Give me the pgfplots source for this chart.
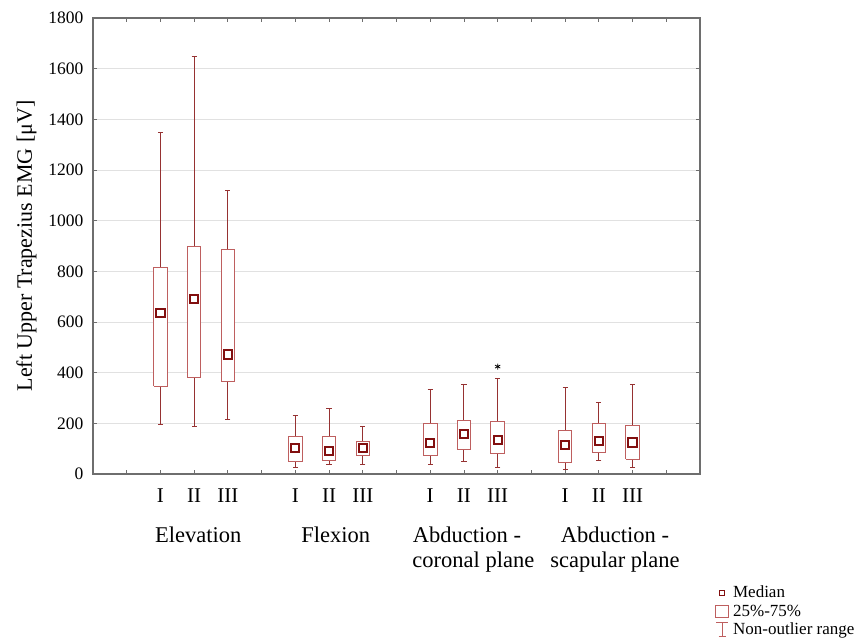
\documentclass[border=0pt]{standalone}
\usepackage{fontspec}
\setmainfont{Liberation Serif}
\usepackage{pgfplots}
\usepackage{pgfplotstable}
\pgfplotsset{compat=1.18}
\definecolor{boxred}{RGB}{190,95,95}
\definecolor{whiskred}{RGB}{150,50,50}
\definecolor{medred}{RGB}{130,15,15}
\definecolor{axgray}{RGB}{110,110,110}
\definecolor{gridgray}{RGB}{225,225,225}
% pos lower-whisker lower-quartile median upper-quartile upper-whisker
\pgfplotstableread{
pos lw  lq  med uq  uw
2   195 347 637 814 1350
3   187 382 692 897 1650
4   214 367 472 888 1120
6   25  49  104 147 233
7   39  55  90  147 257
8   38  75  104 128 186
10  36  75  121 200 332
11  49  97  157 213 355
12  26  80  134 207 378
14  19  47  113 171 341
15  55  87  130 200 282
16  26  59  124 193 355
}\boxdata
\begin{document}
\begin{tikzpicture}
\useasboundingbox (-93pt,-170pt) rectangle (768pt,474pt);
\begin{axis}[
  at={(0pt,0pt)}, anchor=south west,
  scale only axis, width=607pt, height=456pt,
  clip=false,
  xmin=0, xmax=18, ymin=0, ymax=1800,
  xtick={0,...,18},
  xticklabels={,,I,II,III,,I,II,III,,I,II,III,,I,II,III,,},
  ytick={0,200,...,1800},
  ymajorgrids, grid style={gridgray, line width=0.8pt},
  tick align=inside, xtick pos=both, ytick pos=both,
  major tick length=4pt,
  tick style={axgray, line width=0.8pt},
  axis line style={axgray, line width=1.2pt},
  /pgf/number format/assume math mode=true,
  /pgf/number format/1000 sep={},
  yticklabel style={font=\fontsize{17.5}{20}\selectfont, xshift=-6pt},
  xticklabel style={font=\fontsize{21}{24}\selectfont, yshift=-11pt},
  ylabel={Left Upper Trapezius EMG [μV]},
  ylabel style={font=\fontsize{22}{26}\selectfont, at={(axis description cs:-0.0925,0.5)}, anchor=south, inner sep=0pt},
  legend style={at={(axis description cs:1.0247,-0.2430)}, anchor=north west, draw=none, fill=none,
    font=\fontsize{17}{19}\selectfont, row sep=3.5pt, column sep=3pt, inner sep=0pt, nodes={inner sep=1pt}},
  legend cell align=left,
  unbounded coords=jump,
]
\addlegendimage{legend image code/.code={\draw[medred, line width=1pt] (4pt,-2.5pt) rectangle (9pt,2.5pt);}}
\addlegendentry{Median}
\addlegendimage{legend image code/.code={\draw[boxred, line width=0.9pt] (0pt,-6pt) rectangle (13pt,6pt);}}
\addlegendentry{25\%-75\%}
\addlegendimage{legend image code/.code={\draw[boxred, line width=0.9pt] (6.5pt,-7pt) -- (6.5pt,7pt) (0.5pt,7pt) -- (12.5pt,7pt) (3pt,-7pt) -- (10pt,-7pt);}}
\addlegendentry{Non-outlier range}

% whiskers (non-outlier range)
\addplot[forget plot, draw=none, mark=none,
  error bars/.cd, y dir=both, y explicit,
  error bar style={whiskred, line width=0.9pt},
  error mark options={whiskred, line width=0.9pt, mark size=2.6pt, rotate=90}]
  table[x=pos, y=med, y error plus expr=\thisrow{uw}-\thisrow{med}, y error minus expr=\thisrow{med}-\thisrow{lw}] {\boxdata};

% boxes (25%-75%)
\addplot[forget plot, draw=boxred, fill=white, line width=0.9pt] coordinates {
(1.8,347) (2.2,347) (2.2,814) (1.8,814) (1.8,347) (2,nan)
(2.8,382) (3.2,382) (3.2,897) (2.8,897) (2.8,382) (3,nan)
(3.8,367) (4.2,367) (4.2,888) (3.8,888) (3.8,367) (4,nan)
(5.8,49) (6.2,49) (6.2,147) (5.8,147) (5.8,49) (6,nan)
(6.8,55) (7.2,55) (7.2,147) (6.8,147) (6.8,55) (7,nan)
(7.8,75) (8.2,75) (8.2,128) (7.8,128) (7.8,75) (8,nan)
(9.8,75) (10.2,75) (10.2,200) (9.8,200) (9.8,75) (10,nan)
(10.8,97) (11.2,97) (11.2,213) (10.8,213) (10.8,97) (11,nan)
(11.8,80) (12.2,80) (12.2,207) (11.8,207) (11.8,80) (12,nan)
(13.8,47) (14.2,47) (14.2,171) (13.8,171) (13.8,47) (14,nan)
(14.8,87) (15.2,87) (15.2,200) (14.8,200) (14.8,87) (15,nan)
(15.8,59) (16.2,59) (16.2,193) (15.8,193) (15.8,59)
};

% medians
\addplot[forget plot, only marks, mark=square*, mark size=4.1pt, mark options={draw=medred, fill=white, line width=2pt}]
  table[x=pos, y=med] {\boxdata};
% outlier
\addplot[forget plot, only marks, mark=asterisk, mark size=3pt, black, line width=0.8pt] coordinates {(12,424)};

\node[anchor=base, yshift=-68pt, font=\fontsize{22.5}{26}\selectfont] at (axis cs:3.12,0) {Elevation};
\node[anchor=base, yshift=-68pt, font=\fontsize{22.5}{26}\selectfont] at (axis cs:7.2,0) {Flexion};
\node[anchor=base, yshift=-68pt, font=\fontsize{22.5}{26}\selectfont] at (axis cs:11.09,0) {Abduction -};
\node[anchor=base, yshift=-93pt, font=\fontsize{22.5}{26}\selectfont] at (axis cs:11.28,0) {coronal plane};
\node[anchor=base, yshift=-68pt, font=\fontsize{22.5}{26}\selectfont] at (axis cs:15.48,0) {Abduction -};
\node[anchor=base, yshift=-93pt, font=\fontsize{22.5}{26}\selectfont] at (axis cs:15.48,0) {scapular plane};
\end{axis}
\end{tikzpicture}
\end{document}
